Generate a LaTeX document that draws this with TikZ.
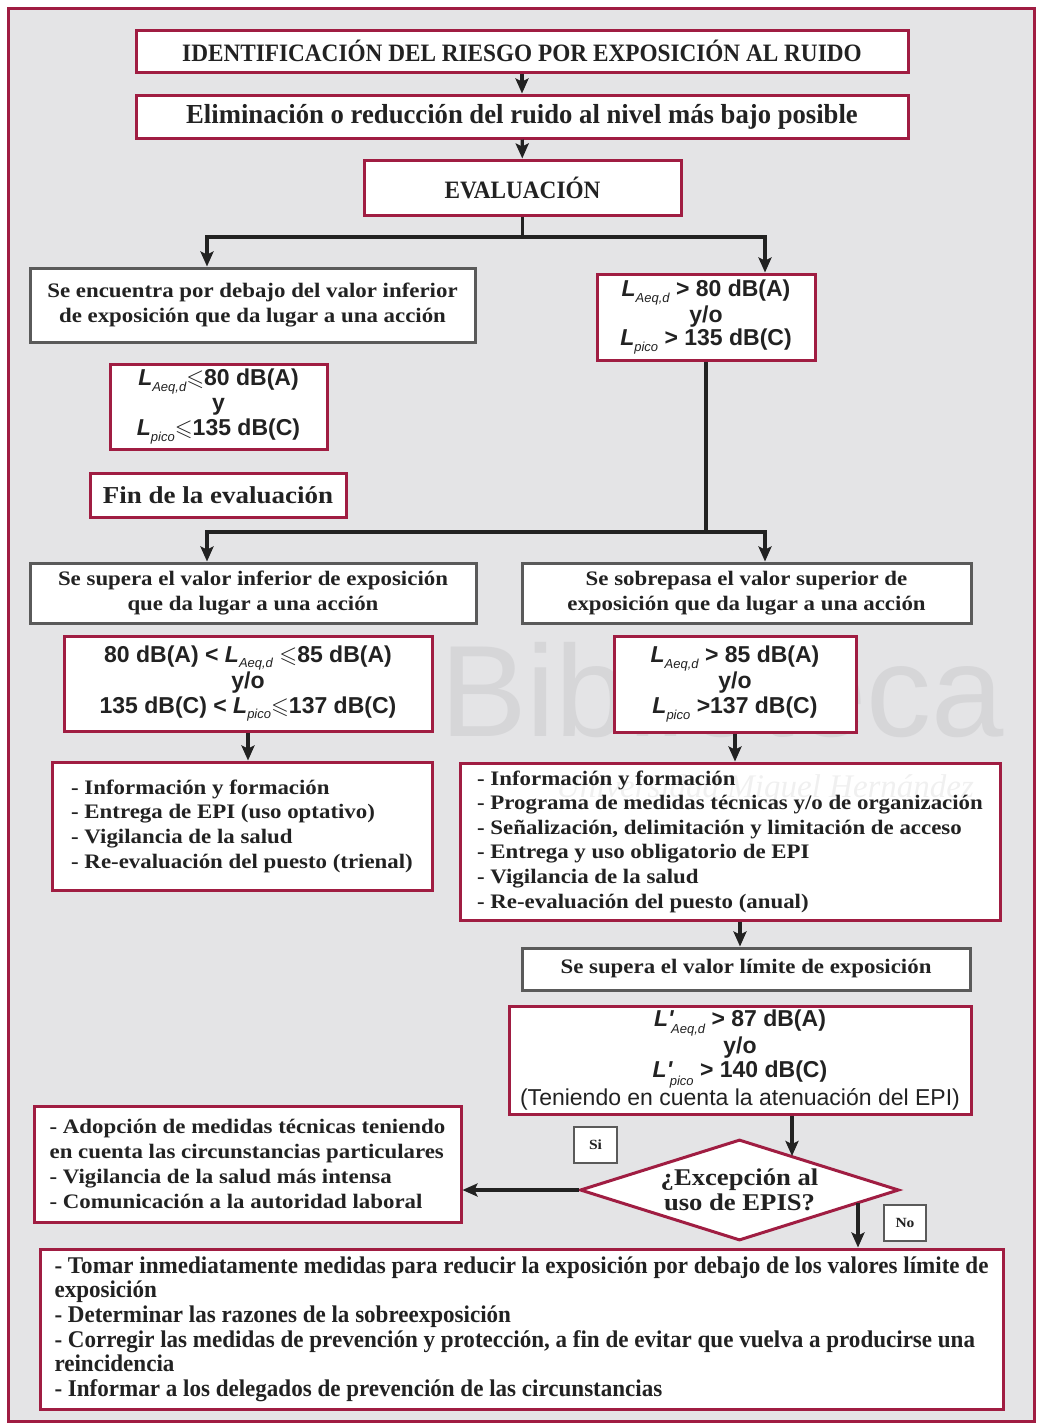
\documentclass[tikz,border=0pt]{standalone}
\usepackage{fontspec}
\usepackage{amssymb}
\setmainfont{Liberation Serif}
\newfontfamily\condf{Liberation Serif}[FakeStretch=0.93]
\newfontfamily\condg{Liberation Serif}[FakeStretch=0.97]
\newfontfamily\condh{Liberation Serif}[FakeStretch=0.96]
\newfontfamily\widef{Liberation Serif}[FakeStretch=1.11]
\newfontfamily\arsf{Liberation Sans}
\usetikzlibrary{shapes.geometric,arrows.meta,calc}
\definecolor{crim}{HTML}{A01D42}
\definecolor{gbord}{HTML}{5A5A5A}
\definecolor{bgc}{HTML}{E4E4E6}
\definecolor{ink}{HTML}{222222}
\definecolor{wmc}{HTML}{D6D6D8}
\newcommand{\Lx}[1]{\textit{L}\raisebox{-0.25em}{\fontsize{13}{13}\selectfont\mdseries\itshape #1}}
\newcommand{\Lp}[1]{\textit{L'}\kern-3pt\raisebox{-0.32em}{\fontsize{13}{13}\selectfont\mdseries\itshape #1}}
\newcommand{\lqs}{\ensuremath{\leqslant}}
\tikzset{
  box/.style={draw=crim, line width=3pt, fill=white, inner sep=0pt, align=center, text=ink},
  gbox/.style={box, draw=gbord},
  sz/.style 2 args={minimum width=#1pt, minimum height=#2pt},
  topf/.style={font=\condf\bfseries\fontsize{25}{27}\selectfont},
  bodyf/.style={font=\widef\bfseries\fontsize{20.6}{25}\selectfont},
  listf/.style={font=\widef\bfseries\fontsize{20.6}{24.7}\selectfont},
  formf/.style={font=\arsf\bfseries\fontsize{23}{24.5}\selectfont},
  listbox/.style={box, align=left},
  arr/.style={draw=ink, line width=3.2pt, -{Stealth[length=15pt,width=13pt,inset=3pt]}},
  ln/.style={draw=ink, line width=3.2pt},
  tag/.style={draw=gbord, line width=1.5pt, fill=white, inner sep=0pt, font=\widef\bfseries\fontsize{14}{16}\selectfont, text=ink}
}
\begin{document}
\begin{tikzpicture}[x=1pt,y=-1pt]
\useasboundingbox (0,0) rectangle (1039,1428);
\draw[crim, line width=3pt, fill=bgc] (8,8) rectangle (1034,1421);

% watermark (behind)
\node[text=wmc, font=\arsf\fontsize{130}{130}\selectfont] (wm1) at (722,690) {Biblioteca};

\node[box, sz={772}{42}, topf] (b1) at (522,51) {IDENTIFICACIÓN DEL RIESGO POR EXPOSICIÓN AL RUIDO};
\node[box, sz={772}{43}, font=\condg\bfseries\fontsize{27.5}{29}\selectfont] (b2) at (522,116.5) {Eliminación o reducción del ruido al nivel más bajo posible};
\node[box, sz={317}{55}, topf] (ev) at (522.5,187.5) {EVALUACIÓN};

\node[gbox, sz={445}{74}, bodyf] (g1) at (252.5,305) {Se encuentra por debajo del valor inferior\\de exposición que da lugar a una acción};
\node[box, sz={217}{85}, formf, font=\arsf\bfseries\fontsize{23}{25}\selectfont] (f1) at (218.5,406.5) {\Lx{Aeq,d}\lqs80 dB(A)\\y\\\Lx{pico}\lqs135 dB(C)};
\node[box, sz={256}{44}, font=\widef\bfseries\fontsize{24.3}{26}\selectfont] (fin) at (218,495) {Fin de la evaluación};
\node[box, sz={218}{86}, formf, font=\arsf\bfseries\fontsize{23}{23.5}\selectfont] (f2) at (706,317) {\Lx{Aeq,d} > 80 dB(A)\\y/o\\\Lx{pico} > 135 dB(C)};

\node[gbox, sz={446}{60}, bodyf] (g2) at (253,593) {Se supera el valor inferior de exposición\\que da lugar a una acción};
\node[gbox, sz={449}{60}, bodyf] (g3) at (746.5,593) {Se sobrepasa el valor superior de\\exposición que da lugar a una acción};

\node[box, sz={368}{95}, formf, font=\arsf\bfseries\fontsize{23}{25}\selectfont] (f3) at (248,683.5) {80 dB(A) < \Lx{Aeq,d} \lqs85 dB(A)\\y/o\\135 dB(C) < \Lx{pico}\lqs137 dB(C)};
\node[box, sz={242}{96}, formf] (f4) at (735,684) {\Lx{Aeq,d} > 85 dB(A)\\y/o\\\Lx{pico} >137 dB(C)};

\node[listbox, sz={380}{128}, listf] (a1) at (242,826) {- Información y formación\\- Entrega de EPI (uso optativo)\\- Vigilancia de la salud\\- Re-evaluación del puesto (trienal)};
\node[listbox, sz={540}{157}, font=\widef\bfseries\fontsize{20.6}{24.6}\selectfont] (a2) at (730,841.5) {- Información y formación\\- Programa de medidas técnicas y/o de organización\\- Señalización, delimitación y limitación de acceso\\- Entrega y uso obligatorio de EPI\\- Vigilancia de la salud\\- Re-evaluación del puesto (anual)};

\node[gbox, sz={448}{42}, bodyf] (g4) at (746,969) {Se supera el valor límite de exposición};
\node[box, sz={462}{108}, formf, font=\arsf\bfseries\fontsize{23}{24}\selectfont] (f5) at (740,1060) {\Lp{Aeq,d} > 87 dB(A)\\y/o\\\Lp{pico} > 140 dB(C)\\{\mdseries (Teniendo en cuenta la atenuación del EPI)}};

\node[diamond, draw=crim, line width=3pt, fill=white, inner sep=0pt, shape aspect=3.16, minimum width=319pt, minimum height=101pt, align=center, text=ink, font=\widef\bfseries\fontsize{24}{24.5}\selectfont] (dia) at (739.5,1190) {¿Excepción al\\uso de EPIS?};

\node[tag, sz={43}{36}] (si) at (595.5,1145) {Si};
\node[tag, sz={42}{36}] (no) at (905,1223) {No};

\node[listbox, sz={427}{116}, listf] (a3) at (247.5,1164) {- Adopción de medidas técnicas teniendo\\en cuenta las circunstancias particulares\\- Vigilancia de la salud más intensa\\- Comunicación a la autoridad laboral};
\node[listbox, sz={963}{160}, font=\condh\bfseries\fontsize{24}{24.6}\selectfont] (a4) at (521.5,1329) {- Tomar inmediatamente medidas para reducir la exposición por debajo de los valores límite de\\exposición\\- Determinar las razones de la sobreexposición\\- Corregir las medidas de prevención y protección, a fin de evitar que vuelva a producirse una\\reincidencia\\- Informar a los delegados de prevención de las circunstancias};

% connectors
\coordinate (jl) at (207,237);
\coordinate (jr) at (765,237);
\coordinate (kl) at (207,532);
\coordinate (kr) at (765,532);
\coordinate (cx) at (740,0);
\coordinate (dq) at (792,1156);
\coordinate (dn) at (858,1203);

\draw[arr] (b1) -- (b2);
\draw[arr] (b2) -- (ev);
\draw[ln] (ev.south) -- (ev.south |- jl);
\draw[arr] (jl -| ev.south) -- (jl) -- (jl |- g1.north);
\draw[arr] (jl -| ev.south) -- (jr) -- (jr |- f2.north);
\draw[ln] (f2.south) -- (f2.south |- kl);
\draw[arr] (kl -| f2.south) -- (kl) -- (kl |- g2.north);
\draw[arr] (kl -| f2.south) -- (kr) -- (kr |- g3.north);
\draw[arr] (f3.south) -- (f3.south |- a1.north);
\draw[arr] (f4.south) -- (f4.south |- a2.north);
\draw[arr] (a2.south -| cx) -- (g4.north -| cx);
\draw[arr] (f5.south -| dq) -- (dq);
\draw[arr] (dia.west) -- (dia.west -| a3.east);
\draw[arr] (dn) -- (dn |- a4.north);

% watermark (over)
\node[text=black, opacity=0.06, font=\itshape\fontsize{33}{33}\selectfont] (wm2) at (765,790) {Universidad Miguel Hernández};
\end{tikzpicture}
\end{document}
